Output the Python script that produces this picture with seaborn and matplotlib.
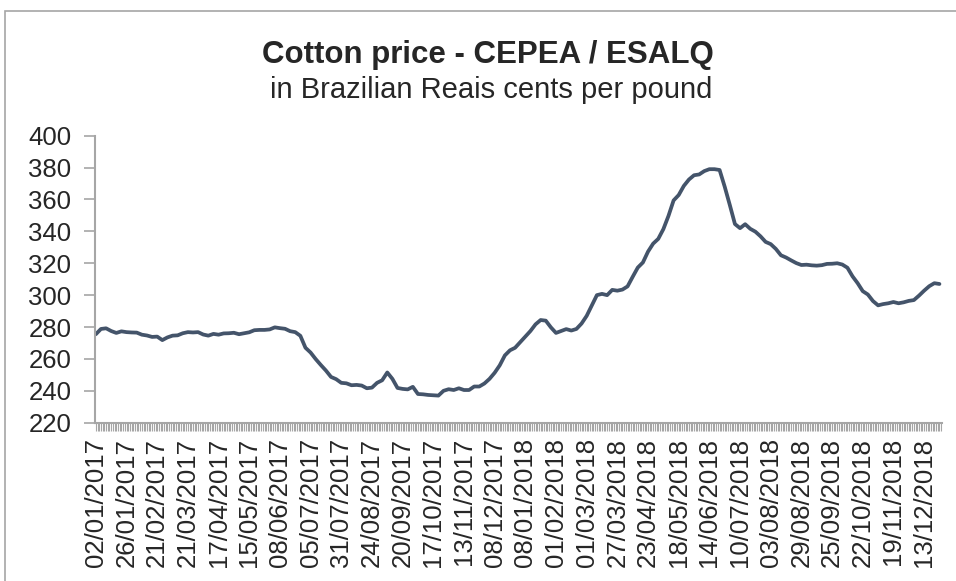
import matplotlib
matplotlib.use("Agg")
import matplotlib.pyplot as plt
from matplotlib.patches import Rectangle
import seaborn as sns
import numpy as np
import pandas as pd

# ---- data -------------------------------------------------------------
date_labels = [
    "02/01/2017", "26/01/2017", "21/02/2017", "21/03/2017", "17/04/2017",
    "15/05/2017", "08/06/2017", "05/07/2017", "31/07/2017", "24/08/2017",
    "20/09/2017", "17/10/2017", "13/11/2017", "08/12/2017", "08/01/2018",
    "01/02/2018", "01/03/2018", "27/03/2018", "23/04/2018", "18/05/2018",
    "14/06/2018", "10/07/2018", "03/08/2018", "29/08/2018", "25/09/2018",
    "22/10/2018", "19/11/2018", "13/12/2018",
]
n_trading_days = 497      # categories on the x axis
label_step = 18           # one date label every 18 trading days
sample_step = 3           # price read every 3rd trading day

price = [
    275.5, 278.8, 279.2, 277.5, 276.3, 277.3, 276.8, 276.6, 276.5, 275.2,
    274.7, 273.8, 274.0, 271.8, 273.5, 274.6, 274.8, 276.1, 276.8, 276.6,
    276.8, 275.3, 274.6, 275.7, 275.2, 276.0, 276.1, 276.4, 275.5, 276.1,
    276.7, 278.0, 278.2, 278.2,
    278.5, 279.8, 279.3, 278.9, 277.4, 276.8, 274.5, 267.0, 264.0, 259.9,
    256.2, 252.7, 248.7, 247.3, 245.0, 244.7, 243.5, 243.7, 243.3, 241.6,
    242.0, 245.0, 246.6, 251.5, 247.5, 241.8, 241.2, 240.9, 242.5, 238.0,
    237.8, 237.4, 237.2,
    237.0, 240.0, 241.0, 240.5, 241.6, 240.5, 240.5, 242.7, 242.7, 244.6,
    247.5, 251.3, 256.0, 262.2, 265.4, 267.0,
    270.5, 274.0, 277.5, 281.7, 284.4, 284.0, 279.8, 276.3, 277.5, 278.7,
    277.8, 278.8, 282.2, 287.0, 293.5, 300.0, 300.8, 300.0, 303.3, 302.8,
    303.5, 305.5, 311.5, 317.3, 320.5, 327.3, 332.3, 335.3, 341.4, 349.7,
    359.4, 362.8, 368.5, 372.5, 375.2, 375.7, 377.8, 379.0, 379.0, 378.5,
    368.0, 356.5, 344.6, 342.0, 344.5, 341.6, 339.8, 336.9, 333.4, 332.0,
    329.0, 325.0, 323.6, 321.8, 320.1, 318.9, 319.1, 318.7, 318.5, 318.8,
    319.6, 319.7, 320.0, 319.2, 317.2, 311.8, 307.5, 302.5, 300.4, 296.3,
    293.6, 294.4, 294.9, 295.7, 294.9, 295.5, 296.4, 296.9, 299.7, 302.8,
    305.6, 307.5, 307.0,
]
y_ticks = [220, 240, 260, 280, 300, 320, 340, 360, 380, 400]

# ---- style ------------------------------------------------------------
sns.set_style("white")
plt.rcParams["font.family"] = ["Liberation Sans", "DejaVu Sans"]

line_color = "#44546A"
axis_color = "#A6A6A6"

W, H = 956, 581
fig = plt.figure(figsize=(W / 100, H / 100), dpi=100)
ax_left, ax_right, ax_top, ax_bottom = 95, 942, 135.7, 422.7
ax = fig.add_axes([ax_left / W, 1 - ax_bottom / H,
                   (ax_right - ax_left) / W, (ax_bottom - ax_top) / H])

df = pd.DataFrame({"day": np.arange(len(price)) * sample_step, "price": price})
sns.lineplot(data=df, x="day", y="price", ax=ax, color=line_color,
             linewidth=2.7, solid_joinstyle="round", solid_capstyle="round")

ax.set_xlim(-0.5, n_trading_days - 0.5)
ax.set_ylim(y_ticks[0], y_ticks[-1])
ax.set_yticks(y_ticks)
ax.set_xticks(np.arange(len(date_labels)) * label_step)
ax.set_xticklabels(date_labels, rotation=90, va="top", ha="center")
ax.set_xticks(np.arange(n_trading_days), minor=True)
ax.set_xlabel("")
ax.set_ylabel("")

ax.tick_params(axis="x", which="both", direction="out", length=6,
               color=axis_color, width=0.8, bottom=True)
ax.tick_params(axis="x", which="major", labelsize=18.5, pad=5)
ax.tick_params(axis="y", direction="out", length=8, color=axis_color,
               width=1.2, labelsize=18.5, left=True, pad=9)
for s in ["top", "right"]:
    ax.spines[s].set_visible(False)
for s in ["left", "bottom"]:
    ax.spines[s].set_color(axis_color)
    ax.spines[s].set_linewidth(1.5)
ax.grid(False)

fig.text(488 / W, 1 - 55 / H, "Cotton price - CEPEA / ESALQ",
         ha="center", va="center", fontsize=22.5, fontweight="bold")
fig.text(491 / W, 1 - 90 / H, "in Brazilian Reais cents per pound",
         ha="center", va="center", fontsize=21)

fig.add_artist(Rectangle((5 / W, -0.2), 1.2, 1.2 - 11 / H,
                         transform=fig.transFigure, fill=False,
                         edgecolor=axis_color, linewidth=1.2))

fig.savefig("out.png", dpi=100)
